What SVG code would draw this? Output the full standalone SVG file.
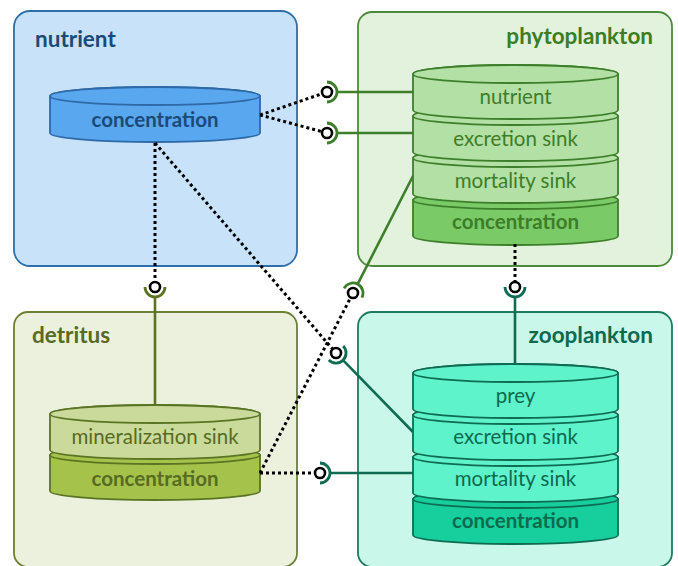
<svg xmlns="http://www.w3.org/2000/svg" width="678" height="566" viewBox="0 0 678 566">
<style>
text{font-family:Lato,"Open Sans","Liberation Sans",sans-serif}
.title{font-size:22.5px;font-weight:bold}
.lbl{font-size:20.5px;text-anchor:middle}
.lblb{font-size:20.5px;font-weight:bold;text-anchor:middle}
.box{stroke-width:1.8}
.seg{stroke-width:1.8}
.dot{fill:none;stroke:#000;stroke-width:3;stroke-dasharray:3 3}
.ball{fill:#fff;stroke:#000;stroke-width:2.6}
.sock{fill:none;stroke-width:2.8}
.wire{fill:none;stroke-width:2.6}
.nut{stroke:#2d6aa6}
.phy{stroke:#3e7f2b}
.det{stroke:#5b7424}
.zoo{stroke:#0f6b52}
</style>
<g id="nutrient">
<rect class="box" x="14" y="11" width="283" height="255" rx="16" fill="#c8e2fa" stroke="#2f6fac"/>
<text class="title" x="35" y="47" fill="#1c4a78">nutrient</text>
<g class="seg" fill="#58a7ef" stroke="#2d6aa6">
<path d="M50 96V133A105 9 0 0 0 260 133V96A105 9 0 0 0 50 96Z"/>
<ellipse cx="155" cy="96" rx="105" ry="9"/>
</g>
<text class="lblb" x="155" y="127" fill="#1c4a78">concentration</text>
</g>
<g id="phytoplankton">
<rect class="box" x="358" y="12" width="314" height="254" rx="14" fill="#e3f2dd" stroke="#4c8b3b"/>
<text class="title" x="653" y="44" fill="#3b7d25" text-anchor="end">phytoplankton</text>
<g class="seg" stroke="#3e7f2b">
<path fill="#7acb68" d="M413 200V236A102.5 9 0 0 0 618 236V200A102.5 9 0 0 0 413 200Z"/>
<ellipse fill="#7acb68" cx="515.5" cy="200" rx="102.5" ry="9"/>
<path fill="#b3e0a5" d="M413 158V194A102.5 9 0 0 0 618 194V158A102.5 9 0 0 0 413 158Z"/>
<ellipse fill="#b3e0a5" cx="515.5" cy="158" rx="102.5" ry="9"/>
<path fill="#b3e0a5" d="M413 116V152A102.5 9 0 0 0 618 152V116A102.5 9 0 0 0 413 116Z"/>
<ellipse fill="#b3e0a5" cx="515.5" cy="116" rx="102.5" ry="9"/>
<path fill="#b3e0a5" d="M413 74V110A102.5 9 0 0 0 618 110V74A102.5 9 0 0 0 413 74Z"/>
<ellipse fill="#b3e0a5" cx="515.5" cy="74" rx="102.5" ry="9"/>
</g>
<text class="lbl" x="515.5" y="104" fill="#3d7d29">nutrient</text>
<text class="lbl" x="515.5" y="146" fill="#3d7d29">excretion sink</text>
<text class="lbl" x="515.5" y="188" fill="#3d7d29">mortality sink</text>
<text class="lblb" x="515.5" y="229" fill="#3d7d29">concentration</text>
</g>
<g id="detritus">
<rect class="box" x="14" y="312" width="283" height="255" rx="14" fill="#ebf1dd" stroke="#6b8034"/>
<text class="title" x="32" y="343" fill="#576b22">detritus</text>
<g class="seg" stroke="#5b7424">
<path fill="#a5c24b" d="M50 455V491A105 9 0 0 0 260 491V455A105 9 0 0 0 50 455Z"/>
<ellipse fill="#a5c24b" cx="155" cy="455" rx="105" ry="9"/>
<path fill="#c9da9b" d="M50 414V450A105 9 0 0 0 260 450V414A105 9 0 0 0 50 414Z"/>
<ellipse fill="#c9da9b" cx="155" cy="414" rx="105" ry="9"/>
</g>
<text class="lbl" x="155" y="444" fill="#576b22">mineralization sink</text>
<text class="lblb" x="155" y="486" fill="#576b22">concentration</text>
</g>
<g id="zooplankton">
<rect class="box" x="358" y="312" width="314" height="255" rx="14" fill="#c9f7e9" stroke="#1d7a5f"/>
<text class="title" x="653" y="343" fill="#0d6a4f" text-anchor="end">zooplankton</text>
<g class="seg" stroke="#0f6b52">
<path fill="#16cf9d" d="M413 499V535A102.5 9 0 0 0 618 535V499A102.5 9 0 0 0 413 499Z"/>
<ellipse fill="#16cf9d" cx="515.5" cy="499" rx="102.5" ry="9"/>
<path fill="#5ef3cb" d="M413 457V493A102.5 9 0 0 0 618 493V457A102.5 9 0 0 0 413 457Z"/>
<ellipse fill="#5ef3cb" cx="515.5" cy="457" rx="102.5" ry="9"/>
<path fill="#5ef3cb" d="M413 415V451A102.5 9 0 0 0 618 451V415A102.5 9 0 0 0 413 415Z"/>
<ellipse fill="#5ef3cb" cx="515.5" cy="415" rx="102.5" ry="9"/>
<path fill="#5ef3cb" d="M413 373V409A102.5 9 0 0 0 618 409V373A102.5 9 0 0 0 413 373Z"/>
<ellipse fill="#5ef3cb" cx="515.5" cy="373" rx="102.5" ry="9"/>
</g>
<text class="lbl" x="515.5" y="403" fill="#0d6a4f">prey</text>
<text class="lbl" x="515.5" y="444" fill="#0d6a4f">excretion sink</text>
<text class="lbl" x="515.5" y="486" fill="#0d6a4f">mortality sink</text>
<text class="lblb" x="515.5" y="528" fill="#0d6a4f">concentration</text>
</g>
<g id="connectors">
<path class="dot" d="M260 115L327 92M260 115L327 133M155 143V287M155 143L336 353M260 473L353 293M260 473H320M515 244V287"/>
<path class="wire phy" d="M337 92H413M337 133H413M357.6 284.1L413 176"/>
<path class="wire det" d="M155 297V405"/>
<path class="wire zoo" d="M343 360.2L413 432M330 473H413M515 297V364"/>
<path class="sock phy" d="M327 82A10 10 0 0 1 327 102M327 123A10 10 0 0 1 327 143M344.1 288.4A10 10 0 0 1 361.9 297.6"/>
<path class="sock det" d="M165 287A10 10 0 0 1 145 287"/>
<path class="sock zoo" d="M343.2 346A10 10 0 0 1 328.8 360M320 463A10 10 0 0 1 320 483M525 287A10 10 0 0 1 505 287"/>
<circle class="ball" cx="327" cy="92" r="5"/>
<circle class="ball" cx="327" cy="133" r="5"/>
<circle class="ball" cx="155" cy="287" r="5"/>
<circle class="ball" cx="353" cy="293" r="5"/>
<circle class="ball" cx="336" cy="353" r="5"/>
<circle class="ball" cx="320" cy="473" r="5"/>
<circle class="ball" cx="515" cy="287" r="5"/>
</g>
</svg>
